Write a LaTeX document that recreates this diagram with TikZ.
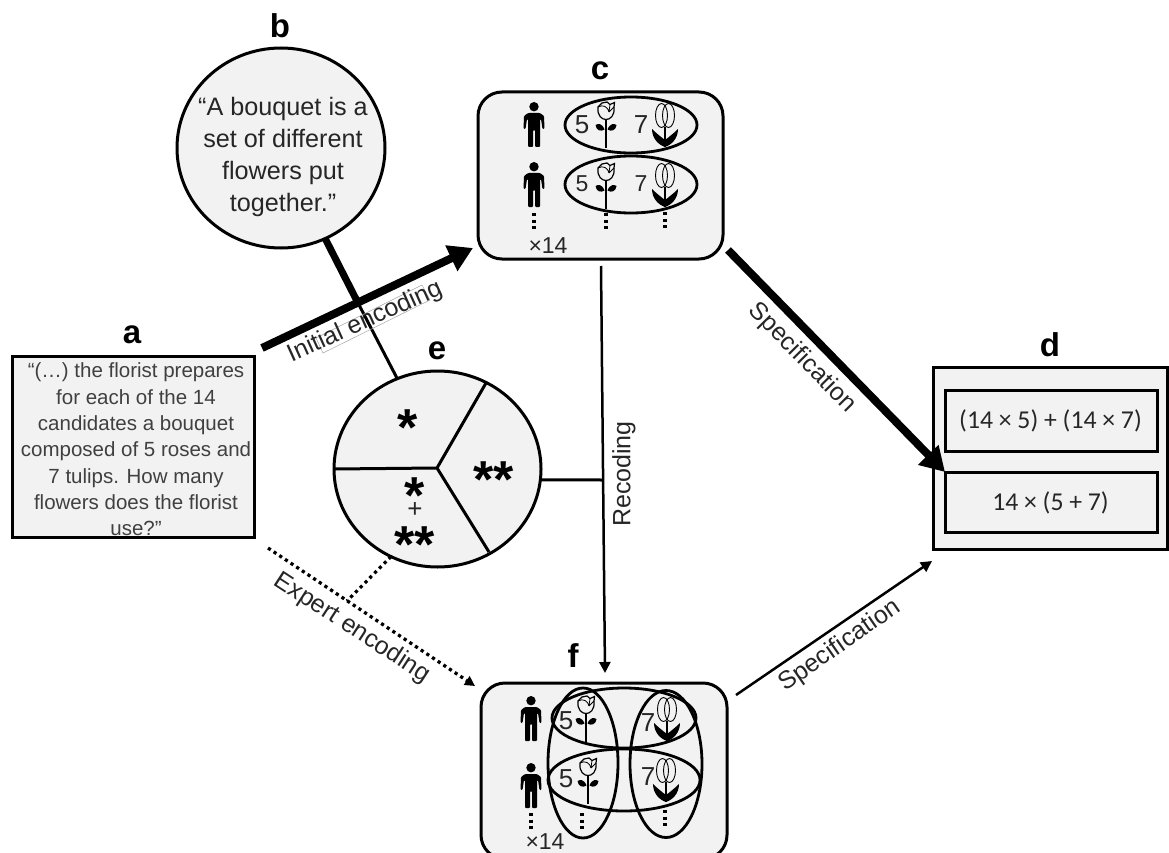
\documentclass[tikz,border=0pt]{standalone}
\usepackage{fontspec}
\setmainfont{Liberation Sans}
\newfontfamily\calib{Carlito}
\usetikzlibrary{arrows.meta,shapes.geometric}
\newcommand\fsz[2]{\fontsize{#1}{#2}\selectfont}
\definecolor{panel}{HTML}{F2F2F2}
\definecolor{ink}{HTML}{262626}
\definecolor{inkb}{HTML}{404040}
\tikzset{
  x=1pt,y=-1pt,
  panelbox/.style={draw=black,fill=panel,line width=3pt,inner sep=0pt,outer sep=0pt},
  roundbox/.style={panelbox,rectangle,rounded corners=24pt},
  bubble/.style={panelbox,ellipse},
  ring/.style={draw=black,ellipse,line width=2.8pt,inner sep=0pt,outer sep=0pt,fill=none},
  letter/.style={font=\bfseries\fsz{33}{33},text=black,inner sep=0pt},
  quote/.style={align=center,text=ink,inner sep=0pt},
  conlabel/.style={font=\fsz{25}{25},text=ink,inner sep=0pt},
  num/.style={font=\fsz{26}{26},text=ink,inner sep=0pt},
  star/.style={font=\bfseries\fsz{52}{52},text=black,inner sep=0pt,anchor=base},
  heavy/.style={line width=8pt,draw=black},
  heavyarrow/.style={heavy,-{Triangle[length=24pt,width=27pt]}},
  lightarrow/.style={line width=2.5pt,draw=black,-{Triangle[length=11pt,width=11pt]}},
  dotline/.style={line width=3.2pt,draw=black,dash pattern=on 3.2pt off 3.6pt},
  dotarrow/.style={dotline,-{Triangle[length=10pt,width=10pt]}},
  plain/.style={line width=3pt,draw=black},
  vdots/.style={line width=3.2pt,draw=black,dash pattern=on 3pt off 3.6pt},
}
\newcommand\person[2]{\begin{scope}[shift={(#1,#2)}]
  \fill (0,4.7) circle[radius=4.7];
  \fill[rounded corners=1pt] (-6,11) -- (6,11) -- (10,14) -- (10.5,27) -- (8.5,27) -- (7,17) -- (6,17) -- (6,45) -- (1,45) -- (1,28) -- (-1,28) -- (-1,45) -- (-6,45) -- (-6,17) -- (-7,17) -- (-8.5,27) -- (-10.5,27) -- (-10,14) -- cycle;
\end{scope}}
\newcommand\rose[2]{\begin{scope}[shift={(#1,#2)}]
  \draw[line width=1.2pt,fill=panel] (-8,5) .. controls (-9,14) and (-4,17.5) .. (0,17.5) .. controls (4,17.5) and (9,14) .. (8,5) -- (8.5,0.5) -- (4,2.5) -- (1,0) -- (-4,1) -- cycle;
  \draw[line width=.8pt] (-8,5) .. controls (-3,2) and (2,5) .. (3,10) (3,10) -- (8,5) (3,10) -- (4,2.5);
  \draw[line width=1.4pt] (0,17.5) -- (0,46);
  \fill (-1.5,27.5) .. controls (-4,21) and (-8,21.5) .. (-10.5,23) .. controls (-10,28.5) and (-5,30) .. (-1.5,27.5) -- cycle;
  \fill (1.5,27.5) .. controls (4,21) and (8,21.5) .. (10.5,23) .. controls (10,28.5) and (5,30) .. (1.5,27.5) -- cycle;
\end{scope}}
\newcommand\tulip[2]{\begin{scope}[shift={(#1,#2)}]
  \fill[panel] (0,12.5) ellipse[x radius=9.5,y radius=12];
  \draw[line width=.9pt] (-3.5,12.5) ellipse[x radius=6,y radius=12];
  \draw[line width=.9pt] (3.5,12.5) ellipse[x radius=6,y radius=12];
  \draw[line width=1.4pt] (0,24) -- (0,44);
  \fill (0,44) .. controls (-6,42) and (-13,36) .. (-13,26) .. controls (-9,30) and (-4,34) .. (0,37) .. controls (4,34) and (9,30) .. (13,26) .. controls (13,36) and (6,42) .. (0,44) -- cycle;
\end{scope}}
\begin{document}
\begin{tikzpicture}
\useasboundingbox (0,0) rectangle (1169,853);
% panels
\node[panelbox,rectangle,minimum width=242pt,minimum height=181pt] (a) at (133,446.5) {};
\node[bubble,minimum width=208pt,minimum height=200pt] (b) at (281,148) {};
\node[roundbox,minimum width=245pt,minimum height=167pt] (c) at (600.5,175.5) {};
\node[panelbox,rectangle,minimum width=234pt,minimum height=182pt] (d) at (1050,458) {};
\node[panelbox,rectangle,minimum width=212pt,minimum height=61pt] (d1) at (1051,420.5) {};
\node[panelbox,rectangle,minimum width=212pt,minimum height=60pt] (d2) at (1051,502) {};
\node[bubble,minimum width=207pt,minimum height=196pt] (e) at (437.5,469) {};
\node[roundbox,minimum width=246pt,minimum height=176pt] (f) at (604,771) {};
% letters
\node[letter] (la) at (132,335) {a};
\node[letter] (lb) at (280,26) {b};
\node[letter] (lc) at (600,71) {c};
\node[letter] (ld) at (1050,345) {d};
\node[letter] (le) at (437,351) {e};
\node[letter] (lf) at (573,656) {f};
% quotes
\node[quote,font=\fsz{20.5}{26.3},text=inkb] (ta) at (136,449.5) {“(…) the florist prepares\\for each of the 14\\candidates a bouquet\\composed of 5 roses and\\7 tulips. How many\\flowers does the florist\\use?”};
\node[quote,font=\fsz{25.2}{32}] (tb) at (283,157) {“A bouquet is a\\set of different\\flowers put\\together.”};
% d texts
\node[font=\calib\fsz{25.7}{25.7},text=ink,inner sep=0pt] (td1) at (1050.5,421) {(14 × 5) + (14 × 7)};
\node[font=\calib\fsz{25.7}{25.7},text=ink,inner sep=0pt] (td2) at (1050.5,503) {14 × (5 + 7)};
% e sectors
\coordinate (hub) at (437,468);
\coordinate (s1) at (486,383);
\coordinate (s2) at (489,552);
\draw[plain] (e.west) -- (hub) -- (s1) (hub) -- (s2);
\node[star] (st1) at (408,445) {*};
\node[star] (st2) at (494,497) {**};
\node[star] (st3) at (415,513) {*};
\node[font=\fsz{26}{26},text=ink,inner sep=0pt] (st4) at (415,510) {+};
\node[star] (st5) at (415,562) {**};
% c content
\person{534}{102}\person{534}{162}
\rose{606}{102}\rose{606}{163}
\tulip{665}{103}\tulip{665}{163}
\node[ring,minimum width=132pt,minimum height=56pt] (c1) at (631,125) {};
\node[ring,minimum width=132pt,minimum height=57pt] (c2) at (631,184.5) {};
\node[num] (n1) at (582,125) {5};
\node[num] (n2) at (641,125) {7};
\node[num,font=\fsz{23}{23}] (n3) at (582,184) {5};
\node[num,font=\fsz{23}{23}] (n4) at (641,184) {7};
\node[num,font=\fsz{23}{23}] (x1) at (548,246) {×14};
\coordinate (d1a) at (534,213); \coordinate (d1b) at (534,231);
\coordinate (d2a) at (606,213); \coordinate (d2b) at (606,232);
\coordinate (d3a) at (665,212); \coordinate (d3b) at (665,231);
\draw[vdots] (d1a) -- (d1b); \draw[vdots] (d2a) -- (d2b); \draw[vdots] (d3a) -- (d3b);
% f content
\person{531}{696}\person{531}{763}
\rose{586}{696}\rose{588}{758}
\tulip{667}{697}\tulip{666}{758}
\node[ring,minimum width=144pt,minimum height=60pt] (f1) at (624,718) {};
\node[ring,minimum width=152pt,minimum height=62pt] (f2) at (624,780) {};
\node[ring,minimum width=70pt,minimum height=150pt] (f3) at (583,763) {};
\node[ring,minimum width=72pt,minimum height=147pt] (f4) at (666,764) {};
\node[num] (n5) at (566,721) {5};
\node[num] (n6) at (566,779) {5};
\node[num] (n7) at (648,723) {7};
\node[num] (n8) at (648,777) {7};
\node[num,font=\fsz{23}{23}] (x2) at (545,842) {×14};
\coordinate (d4a) at (531,813); \coordinate (d4b) at (531,831);
\coordinate (d5a) at (582,813); \coordinate (d5b) at (582,831);
\coordinate (d6a) at (665,810); \coordinate (d6b) at (665,829);
\draw[vdots] (d4a) -- (d4b); \draw[vdots] (d5a) -- (d5b); \draw[vdots] (d6a) -- (d6b);
% connectors
\coordinate (iA) at (262,348);
\coordinate (iB) at (473,248);
\coordinate (be) at (357,301);
\coordinate (cdA) at (728,250);
\coordinate (cdB) at (945,472);
\coordinate (recA) at (601,266);
\coordinate (recB) at (605,673);
\coordinate (recM) at (602,480);
\coordinate (exA) at (268,548);
\coordinate (exB) at (475,686);
\coordinate (exM) at (347,601);
\coordinate (fdA) at (736,695);
\coordinate (fdB) at (932,561);
\draw[line width=7pt,draw=black] (b.-64) -- (be);
\draw[plain] (be) -- (e.114);
\draw[heavyarrow] (iA) -- (iB);
\draw[heavyarrow] (cdA) -- (cdB);
\draw[lightarrow] (recA) -- (recB);
\draw[plain] (e.-6) -- (recM);
\draw[dotarrow] (exA) -- (exB);
\draw[dotline] (e.-118) -- (exM);
\draw[lightarrow] (fdA) -- (fdB);
% connector labels
\draw[gray!70,line width=.5pt] (323,353) -- (430,300) -- (422,285) -- (316,338) -- cycle;
\node[conlabel,rotate=24.3] (li) at (365,322) {Initial encoding};
\node[conlabel,rotate=-45.5] (ls1) at (802,358) {Specification};
\node[conlabel,rotate=90] (lr) at (624,474) {Recoding};
\node[conlabel,rotate=-33] (le2) at (352,628) {Expert encoding};
\node[conlabel,rotate=34.7] (ls2) at (840,646) {Specification};
\end{tikzpicture}
\end{document}
